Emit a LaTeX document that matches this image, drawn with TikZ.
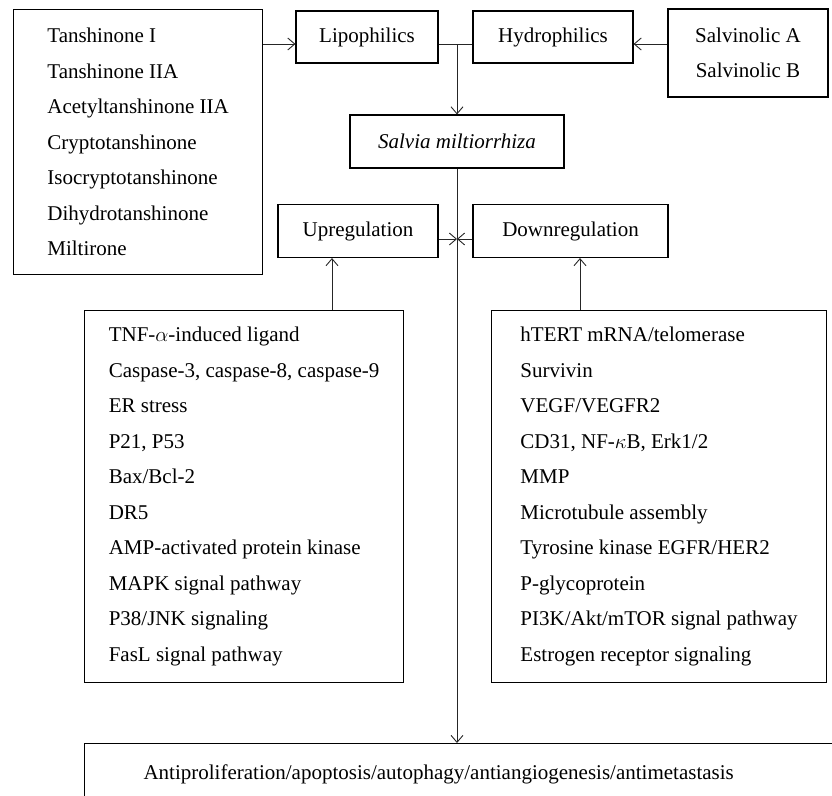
\documentclass[tikz,border=0pt]{standalone}
\usepackage{fontspec}
\setmainfont{Liberation Serif}
\usetikzlibrary{arrows.meta}
\newcommand{\bodyfont}{\fontsize{21}{35.5}\selectfont}
\tikzstyle{boxNode} = [rectangle, draw=black, line width=1.1pt, inner sep=0pt, text centered, font=\bodyfont]
\tikzstyle{listNode} = [boxNode, align=left, anchor=north west]
\tikzstyle{arrow} = [line width=0.9pt, -{Straight Barb[length=7pt,width=12pt]}, draw=black!85]
\tikzstyle{line} = [line width=0.9pt, draw=black!85]

\begin{document}
\begin{tikzpicture}[x=1pt, y=-1pt]
        \useasboundingbox (0,0) rectangle (832,795);
        % top row
        \node (compounds) [listNode, minimum width=249pt, minimum height=265pt] at (13,9) {Tanshinone I\\Tanshinone IIA\\Acetyltanshinone IIA\\Cryptotanshinone\\Isocryptotanshinone\\Dihydrotanshinone\\Miltirone};
        \node (lipo) [boxNode, minimum width=142pt, minimum height=52pt] at (367,37) {Lipophilics};
        \node (hydro) [boxNode, minimum width=160pt, minimum height=52pt] at (553,37) {Hydrophilics};
        \node (salvinolic) [boxNode, align=center, minimum width=160pt, minimum height=88pt] at (748,53) {Salvinolic A\\Salvinolic B};
        \node (salvia) [boxNode, minimum width=214pt, minimum height=53pt] at (457,141.5) {\itshape Salvia miltiorrhiza};
        % regulation
        \node (up) [boxNode, minimum width=160pt, minimum height=53pt] at (358,231) {Upregulation};
        \node (down) [boxNode, minimum width=195pt, minimum height=53pt] at (570.5,231) {Downregulation};
        \node (uplist) [listNode, minimum width=319pt, minimum height=372pt] at (84,310) {TNF-$\alpha$-induced ligand\\Caspase-3, caspase-8, caspase-9\\ER stress\\P21, P53\\Bax/Bcl-2\\DR5\\AMP-activated protein kinase\\MAPK signal pathway\\P38/JNK signaling\\FasL signal pathway};
        \node (downlist) [listNode, minimum width=335pt, minimum height=372pt] at (491,310) {hTERT mRNA/telomerase\\Survivin\\VEGF/VEGFR2\\CD31, NF-$\kappa$B, Erk1/2\\MMP\\Microtubule assembly\\Tyrosine kinase EGFR/HER2\\P-glycoprotein\\PI3K/Akt/mTOR signal pathway\\Estrogen receptor signaling};
        \node (effect) [listNode, text width=648pt, inner xsep=59pt, minimum height=62pt] at (84,743) {Antiproliferation/apoptosis/autophagy/antiangiogenesis/antimetastasis};

        \coordinate (jn) at (457,44);
        \coordinate (mid) at (457,239);
        \coordinate (upx) at (332,0);
        \coordinate (downx) at (580,0);

        \draw [arrow] (compounds.east |- jn) -- (lipo.west |- jn);
        \draw [line] (lipo.east |- jn) -- (hydro.west |- jn);
        \draw [arrow] (salvinolic.west |- jn) -- (hydro.east |- jn);
        \draw [arrow] (jn) -- (salvia.north);
        \draw [arrow] (salvia.south) -- (effect.north -| salvia.south);
        \draw [arrow] (up.east |- mid) -- (mid);
        \draw [arrow] (down.west |- mid) -- (mid);
        \draw [arrow] (uplist.north -| upx) -- (up.south -| upx);
        \draw [arrow] (downlist.north -| downx) -- (down.south -| downx);
    \end{tikzpicture}
\end{document}
